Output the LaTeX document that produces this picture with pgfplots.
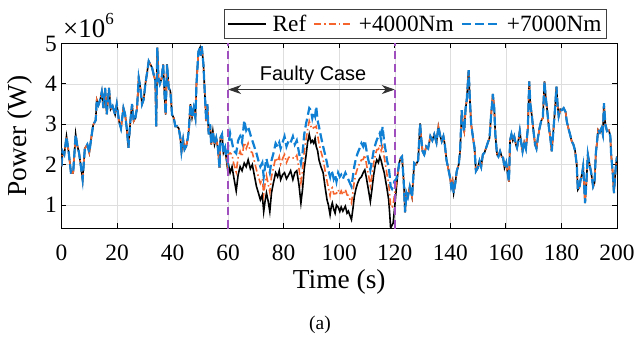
\documentclass[border=0pt]{standalone}
\usepackage{fontspec}
\setmainfont{Liberation Serif}
\newfontfamily\arialf{Liberation Sans}
\usepackage{pgfplots}
\pgfplotsset{compat=1.18}
\usepackage{pgfplotstable}
\usetikzlibrary{arrows.meta}

\definecolor{myblue}{RGB}{16,128,212}
\definecolor{myorange}{RGB}{245,100,45}
\definecolor{mypurple}{RGB}{160,80,190}

% power in units of 1e6 W
\pgfplotstableread{
t ref p4 p7
0.0 1.96 1.96 1.96
0.4 2.33 2.33 2.33
1.0 2.25 2.25 2.25
1.8 2.70 2.70 2.70
2.6 2.30 2.30 2.30
3.4 1.80 1.80 1.80
4.2 1.80 1.80 1.80
5.1 2.75 2.75 2.75
5.6 2.50 2.50 2.50
6.3 2.30 2.30 2.30
6.9 2.00 2.00 2.00
7.6 1.63 1.63 1.63
8.4 2.40 2.40 2.40
9.3 2.50 2.50 2.50
10.0 2.30 2.30 2.30
10.8 2.70 2.70 2.70
11.4 2.98 2.98 2.98
12.3 3.10 3.10 3.10
12.7 3.60 3.60 3.60
13.3 3.48 3.48 3.48
13.9 3.60 3.60 3.60
14.5 3.80 3.80 3.80
15.1 3.40 3.40 3.40
15.7 3.90 3.90 3.90
16.3 3.25 3.25 3.25
17.1 3.90 3.90 3.90
17.7 3.37 3.37 3.37
18.4 3.45 3.45 3.45
19.3 3.24 3.24 3.24
19.9 3.50 3.50 3.50
20.7 3.08 3.08 3.08
21.4 2.90 2.90 2.90
22.3 3.40 3.40 3.40
22.9 3.25 3.25 3.25
23.5 2.90 2.90 2.90
24.1 2.42 2.42 2.42
24.8 3.08 3.08 3.08
25.4 3.50 3.50 3.50
26.0 3.08 3.08 3.08
26.6 3.16 3.16 3.16
27.2 3.40 3.40 3.40
27.8 4.15 4.15 4.15
28.4 3.90 3.90 3.90
29.0 3.50 3.50 3.50
29.6 3.62 3.62 3.62
30.2 4.00 4.00 4.00
30.8 4.27 4.27 4.27
31.4 4.56 4.56 4.56
32.0 4.48 4.48 4.48
32.6 4.40 4.40 4.40
33.2 4.23 4.23 4.23
33.8 4.07 4.07 4.07
34.1 2.95 2.95 2.95
34.5 4.90 4.90 4.90
34.9 4.15 4.15 4.15
35.4 4.00 4.00 4.00
36.0 4.12 4.12 4.12
36.6 4.48 4.48 4.48
37.1 3.74 3.74 3.74
37.5 3.24 3.24 3.24
38.0 4.48 4.48 4.48
38.6 3.90 3.90 3.90
39.2 3.82 3.82 3.82
39.8 3.24 3.24 3.24
40.4 3.16 3.16 3.16
41.0 2.95 2.95 2.95
41.6 2.95 2.95 2.95
42.2 2.90 2.90 2.90
42.8 2.66 2.66 2.66
43.2 2.33 2.33 2.33
43.8 2.62 2.62 2.62
44.3 2.38 2.38 2.38
44.9 2.46 2.46 2.46
45.5 2.66 2.66 2.66
45.9 2.90 2.90 2.90
46.4 3.50 3.50 3.50
47.0 3.17 3.17 3.17
47.6 3.40 3.40 3.40
48.2 3.17 3.17 3.17
48.6 4.00 4.00 4.00
49.3 4.80 4.80 4.80
49.9 4.90 4.90 4.90
50.2 4.70 4.70 4.70
50.5 4.93 4.93 4.93
51.1 4.48 4.48 4.48
51.5 3.90 3.90 3.90
52.1 3.08 3.08 3.08
52.5 3.50 3.50 3.50
53.0 2.75 2.75 2.75
53.5 3.00 3.00 3.00
53.9 2.50 2.50 2.50
54.5 2.83 2.83 2.83
55.1 2.50 2.50 2.50
55.7 2.66 2.66 2.66
56.3 2.42 2.42 2.42
56.9 1.92 1.92 1.92
57.2 2.66 2.66 2.66
57.8 2.75 2.75 2.75
58.3 2.30 2.30 2.30
58.9 2.42 2.42 2.42
59.3 2.17 2.17 2.17
59.9 1.84 1.95 2.05
60.0 2.04 2.25 2.45
60.7 1.80 2.29 2.78
61.4 1.95 2.25 2.55
62.0 1.70 2.03 2.35
62.9 1.35 1.82 2.28
63.6 1.75 2.18 2.60
64.3 1.95 2.33 2.70
65.0 1.85 2.20 2.55
65.8 2.04 2.55 3.10
66.5 1.95 2.40 2.85
67.2 2.12 2.53 2.94
68.0 1.90 2.33 2.75
68.7 2.00 2.30 2.60
69.4 1.75 2.10 2.45
70.2 1.46 1.87 2.28
70.9 1.30 1.70 2.10
71.6 1.13 1.54 1.95
72.3 1.25 1.65 2.05
72.8 0.84 1.27 1.70
73.3 1.10 1.53 1.95
73.8 1.30 1.73 2.15
74.4 1.10 1.53 1.95
75.0 0.84 1.32 1.80
75.6 1.30 1.70 2.10
76.3 1.55 1.92 2.28
77.1 1.80 2.17 2.53
77.8 1.70 2.08 2.45
78.4 1.85 2.20 2.55
78.9 1.63 2.02 2.40
79.6 1.75 2.15 2.55
80.3 1.80 2.25 2.70
81.0 1.65 2.05 2.45
81.8 1.75 2.18 2.60
82.5 1.85 2.20 2.55
83.3 1.63 2.17 2.70
84.0 1.80 2.15 2.50
84.7 1.85 2.23 2.60
85.5 1.50 1.90 2.30
86.2 1.05 1.55 2.04
86.8 1.40 1.85 2.30
87.4 1.90 2.33 2.75
88.0 2.20 2.60 3.00
88.6 2.55 2.87 3.19
89.2 2.75 3.08 3.40
89.8 2.55 2.95 3.35
90.3 2.60 2.88 3.15
90.8 2.53 2.92 3.30
91.3 2.65 2.93 3.20
91.7 2.45 2.95 3.44
92.2 2.35 2.73 3.10
92.7 2.12 2.53 2.94
93.4 1.95 2.33 2.70
94.2 1.80 2.13 2.45
94.9 1.45 1.85 2.25
95.6 1.13 1.59 2.04
96.1 1.00 1.43 1.85
96.7 0.76 1.23 1.70
97.1 0.95 1.40 1.85
97.5 1.05 1.43 1.80
98.0 0.90 1.28 1.65
98.5 0.80 1.28 1.75
99.0 1.00 1.29 1.58
99.6 0.95 1.38 1.80
100.2 0.84 1.27 1.70
100.7 0.95 1.35 1.75
101.3 0.85 1.25 1.65
102.2 0.97 1.39 1.80
102.8 0.80 1.25 1.70
103.3 0.85 1.24 1.63
103.8 0.75 1.15 1.55
104.4 0.64 1.05 1.46
105.0 0.95 1.35 1.75
105.4 1.20 1.58 1.95
106.0 1.40 1.78 2.15
106.6 1.54 1.91 2.28
107.3 1.65 2.03 2.40
108.0 1.70 2.12 2.53
108.6 1.80 2.13 2.45
109.2 1.87 2.24 2.60
109.7 1.70 2.05 2.40
110.2 1.50 1.85 2.20
110.7 1.30 1.68 2.05
111.2 1.09 1.48 1.87
111.8 1.40 1.75 2.10
112.4 1.75 2.05 2.35
113.0 2.00 2.25 2.50
113.5 2.12 2.37 2.61
114.1 2.05 2.38 2.70
114.6 2.20 2.49 2.78
115.1 2.10 2.35 2.60
115.6 1.95 2.45 2.94
116.2 1.80 2.18 2.55
116.7 1.60 1.98 2.35
117.2 1.40 1.75 2.10
117.8 1.13 1.54 1.95
118.2 0.75 1.23 1.70
118.5 0.43 0.95 1.46
119.0 0.50 0.95 1.40
119.4 0.55 1.01 1.46
119.9 0.90 1.25 1.60
120.6 1.45 1.55 1.65
121.1 1.80 1.80 1.80
121.6 2.05 2.05 2.05
122.2 2.17 2.17 2.17
122.6 2.20 2.20 2.20
123.2 1.60 1.60 1.60
123.7 0.82 0.82 0.82
124.2 1.30 1.30 1.30
124.7 1.20 1.20 1.20
125.4 1.45 1.45 1.45
126.2 1.20 1.20 1.20
127.0 2.04 2.04 2.04
127.6 2.00 2.00 2.00
128.4 2.10 2.10 2.10
129.1 3.02 3.02 3.02
129.5 2.66 2.66 2.66
130.0 2.33 2.33 2.33
130.6 2.25 2.25 2.25
131.3 2.45 2.45 2.45
132.0 2.40 2.40 2.40
132.8 2.70 2.70 2.70
133.5 2.60 2.60 2.60
134.2 2.75 2.75 2.75
135.0 2.55 2.55 2.55
135.7 2.94 2.94 2.94
136.4 2.70 2.70 2.70
136.9 2.58 2.58 2.58
137.5 2.70 2.70 2.70
138.0 2.50 2.50 2.50
138.6 2.12 2.12 2.12
139.2 1.92 1.92 1.92
139.9 1.68 1.68 1.68
140.3 1.46 1.46 1.46
140.8 1.60 1.60 1.60
141.2 1.30 1.30 1.30
141.8 1.55 1.55 1.55
142.3 1.84 1.84 1.84
143.0 2.00 2.00 2.00
143.5 2.33 2.33 2.33
144.1 3.35 3.35 3.35
144.5 3.00 3.00 3.00
145.0 2.83 2.83 2.83
145.5 3.40 3.40 3.40
145.9 3.60 3.60 3.60
146.6 4.34 4.34 4.34
147.0 3.65 3.65 3.65
147.5 3.00 3.00 3.00
148.3 2.60 2.60 2.60
148.7 2.42 2.42 2.42
149.2 1.84 1.84 1.84
149.9 1.92 1.92 1.92
150.5 2.09 2.09 2.09
151.1 1.95 1.95 1.95
151.7 2.25 2.25 2.25
152.3 2.30 2.30 2.30
152.9 2.42 2.42 2.42
153.5 2.55 2.55 2.55
154.1 2.66 2.66 2.66
154.6 3.16 3.16 3.16
155.3 3.75 3.75 3.75
155.8 3.40 3.40 3.40
156.2 2.75 2.75 2.75
156.8 2.25 2.25 2.25
157.3 2.20 2.20 2.20
157.9 2.33 2.33 2.33
158.5 2.20 2.20 2.20
159.0 2.17 2.17 2.17
159.5 1.92 1.92 1.92
160.1 2.05 2.05 2.05
160.7 1.76 1.76 1.76
161.1 1.58 1.58 1.58
161.5 2.60 2.60 2.60
162.0 2.75 2.75 2.75
162.5 2.60 2.60 2.60
163.0 2.70 2.70 2.70
163.6 2.50 2.50 2.50
164.0 2.42 2.42 2.42
164.5 2.60 2.60 2.60
165.0 2.83 2.83 2.83
165.5 2.55 2.55 2.55
166.0 2.33 2.33 2.33
166.6 2.55 2.55 2.55
167.2 2.40 2.40 2.40
167.9 2.90 2.90 2.90
168.4 4.06 4.06 4.06
168.8 3.50 3.50 3.50
169.3 3.24 3.24 3.24
169.9 2.85 2.85 2.85
170.5 2.50 2.50 2.50
171.0 2.40 2.40 2.40
171.5 2.65 2.65 2.65
172.1 2.90 2.90 2.90
172.7 3.08 3.08 3.08
173.3 3.16 3.16 3.16
173.9 4.06 4.06 4.06
174.3 3.70 3.70 3.70
174.9 3.32 3.32 3.32
175.5 2.91 2.91 2.91
176.0 2.66 2.66 2.66
176.5 2.33 2.33 2.33
177.1 2.85 2.85 2.85
177.7 3.40 3.40 3.40
178.2 3.93 3.93 3.93
178.6 3.49 3.49 3.49
179.0 3.20 3.20 3.20
179.6 3.37 3.37 3.37
180.1 3.35 3.35 3.35
180.8 3.40 3.40 3.40
181.5 3.30 3.30 3.30
181.9 3.08 3.08 3.08
182.5 2.90 2.90 2.90
183.1 2.75 2.75 2.75
183.7 2.58 2.58 2.58
184.3 2.50 2.50 2.50
184.9 2.35 2.35 2.35
185.5 2.00 2.00 2.00
185.9 1.38 1.38 1.38
186.5 1.45 1.45 1.45
186.9 1.63 1.63 1.63
187.4 1.76 1.76 1.76
187.8 1.95 1.95 1.95
188.1 1.60 1.60 1.60
188.5 1.05 1.05 1.05
189.0 1.59 1.59 1.59
189.5 2.25 2.25 2.25
190.0 2.05 2.05 2.05
190.7 1.80 1.80 1.80
191.4 1.46 1.46 1.46
191.9 1.55 1.55 1.55
192.4 2.30 2.30 2.30
192.8 2.55 2.55 2.55
193.2 2.86 2.86 2.86
193.8 2.80 2.80 2.80
194.4 2.90 2.90 2.90
194.9 2.75 2.75 2.75
195.3 3.52 3.52 3.52
195.8 3.00 3.00 3.00
196.4 2.83 2.83 2.83
197.1 2.85 2.85 2.85
197.6 2.70 2.70 2.70
197.9 2.25 2.25 2.25
198.5 1.76 1.76 1.76
198.9 1.30 1.30 1.30
199.4 1.80 1.80 1.80
199.7 2.04 2.04 2.04
200.0 2.20 2.20 2.20
}\powerdata

\begin{document}
\begin{tikzpicture}
\begin{axis}[
  at={(0,0)}, anchor=south west,
  width=555.5bp, height=185bp, scale only axis,
  xmin=0, xmax=200, ymin=0.42, ymax=5,
  xtick={0,20,...,200}, ytick={1,2,3,4,5},
  grid=major, major grid style={draw=black!13, line width=0.6bp},
  tick align=inside, major tick length=5bp,
  axis line style={line width=0.9bp},
  every tick/.style={black, line width=0.9bp},
  tick label style={font=\fontsize{23.5}{28}\selectfont},
  /pgf/number format/assume math mode=true,
  xticklabel style={anchor=base, yshift=-31.5bp, inner sep=0pt},
  yticklabel style={anchor=east, xshift=-4.5bp, inner sep=0pt},
  xlabel={Time (s)},
  xlabel style={at={(axis description cs:0.5,0)}, anchor=base, yshift=-60bp, inner sep=0pt, font=\fontsize{27.5}{32}\selectfont},
  legend columns=3,
  legend style={at={(0.982,1.024)}, anchor=south east, font=\fontsize{23.4}{26}\selectfont,
    draw=black!75, line width=0.8bp, inner xsep=3bp, inner ysep=3.5bp,
    /tikz/every even column/.append style={column sep=5bp},
    /tikz/every odd column/.append style={column sep=4bp}},
  legend image code/.code={\draw[#1] (0bp,0bp) -- (38bp,0bp);},
  clip=true,
]
\addplot[black, line width=1.6bp] table[x=t, y=ref] {\powerdata};
\addlegendentry{Ref}
\addplot[myorange, line width=1.6bp, dash pattern=on 7bp off 3bp on 1.5bp off 3bp] table[x=t, y=p4] {\powerdata};
\addlegendentry{+4000Nm}
\addplot[myblue, line width=2.2bp, dash pattern=on 9bp off 4bp] table[x=t, y=p7] {\powerdata};
\addlegendentry{+7000Nm}
\addplot[mypurple, line width=1.8bp, dash pattern=on 8bp off 5bp, forget plot] coordinates {(60,0.42) (60,5)};
\addplot[mypurple, line width=1.8bp, dash pattern=on 8bp off 5bp, forget plot] coordinates {(120,0.42) (120,5)};
\draw[black!80, line width=1bp, {Stealth[length=13bp,width=9bp,inset=4bp]}-{Stealth[length=13bp,width=9bp,inset=4bp]}] (axis cs:60,3.86) -- (axis cs:120,3.86);
\node[anchor=base, inner sep=0pt, font=\arialf\fontsize{20}{24}\selectfont] at (axis cs:90.6,4.09) {Faulty Case};
\end{axis}
\node[rotate=90, anchor=base, inner sep=0pt, font=\fontsize{27.5}{32}\selectfont] at (-35bp,92.5bp) {Power (W)};
\node[anchor=base west, inner sep=0pt, font=\fontsize{27}{30}\selectfont] at (1.5bp,190.5bp) {×10\raisebox{0.5em}{\fontsize{17}{20}\selectfont 6}};
\node[anchor=base, inner sep=0pt, font=\fontsize{19.5}{22}\selectfont] at (258.5bp,-100.5bp) {(a)};
\pgfresetboundingbox
\path (-61.5bp,-111.5bp) rectangle (574.5bp,228.5bp);
\end{tikzpicture}
\end{document}
